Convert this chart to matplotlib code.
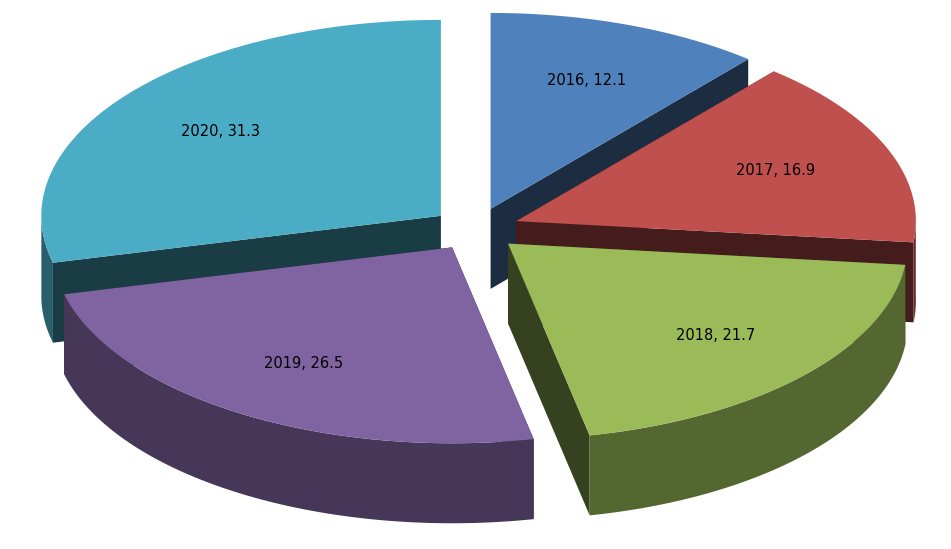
import numpy as np
import matplotlib.pyplot as plt
from matplotlib.patches import Polygon
from matplotlib.colors import to_rgb

years = ["2016", "2017", "2018", "2019", "2020"]
values = [12.1, 16.9, 21.7, 26.5, 31.3]
colors = ["#4F81BD", "#C0504D", "#9BBB59", "#8064A2", "#4BACC6"]

R, K, D, E = 1.0, 0.49, 0.2, 0.11

fig = plt.figure(figsize=(9.51, 5.49), dpi=100)
ax = fig.add_axes([0, 0, 1, 1])
ax.set_xlim(-1.19, 1.19)
ax.set_ylim(-0.80, 0.573)
ax.axis("off")

def pt(t, cx, cy, r=R):
    return cx + r*np.cos(t), cy + K*r*np.sin(t)

def dark(c, f):
    return tuple(v*f for v in to_rgb(c))

total = sum(values)
start = np.pi/2
slices = []
for y, v, c in zip(years, values, colors):
    sweep = 2*np.pi*v/total
    t1, t2 = start - sweep, start
    start = t1
    m = (t1+t2)/2
    cx, cy = E*np.cos(m), E*K*np.sin(m)
    slices.append((y, v, c, t1, t2, m, cx, cy))

for y, v, c, t1, t2, m, cx, cy in sorted(slices, key=lambda s: -np.sin(s[5])):
    faces = []
    for t in (t1, t2):
        ex, ey = pt(t, cx, cy)
        poly = [(cx, cy), (ex, ey), (ex, ey-D), (cx, cy-D)]
        faces.append((-np.sin(t), poly, dark(c, 0.35)))
    ts = np.linspace(t1, t2, 200)
    front = np.sin(ts) < 0.02
    if front.any():
        tf = ts[front]
        xs, ys = pt(tf, cx, cy)
        poly = list(zip(xs, ys)) + list(zip(xs[::-1], ys[::-1]-D))
        faces.append((10, poly, dark(c, 0.55)))
    for _, poly, fc in sorted(faces, key=lambda f: f[0]):
        ax.add_patch(Polygon(poly, closed=True, fc=fc, ec="none"))
    xs, ys = pt(ts, cx, cy)
    top = [(cx, cy)] + list(zip(xs, ys))
    ax.add_patch(Polygon(top, closed=True, fc=c, ec="none"))
    lx, ly = pt(m, cx, cy, 0.7)
    ax.text(lx, ly, f"{y}, {v}", ha="center", va="center", fontsize=10.5,
            family="DejaVu Sans")

fig.savefig("out.png", dpi=100)
